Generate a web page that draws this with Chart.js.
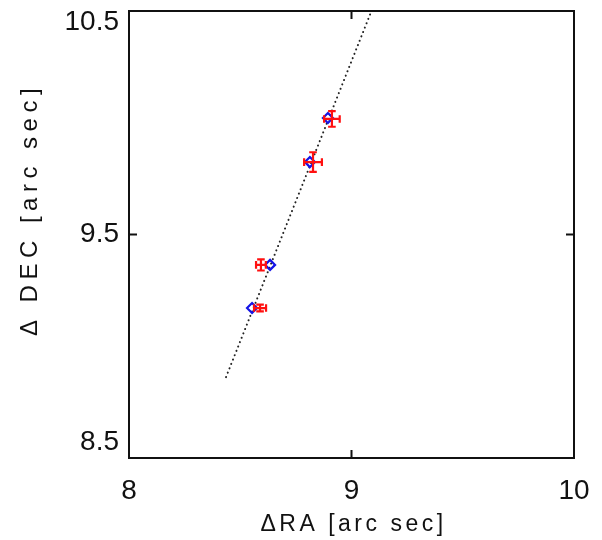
<!DOCTYPE html>
<html><head><meta charset="utf-8">
<script src="https://cdn.jsdelivr.net/npm/chart.js@4/dist/chart.umd.min.js"></script>
<style>html,body{margin:0;padding:0;background:#fff}#wrap{width:602px;height:540px}</style>
</head><body><div id="wrap"><canvas id="c" width="602" height="540"></canvas></div>
<script>
// ---- data ----
const xTicks = [8, 9, 10];
const yTicks = [8.5, 9.5, 10.5];
const xTickLabels = ['8', '9', '10'];
const yTickLabels = ['8.5', '9.5', '10.5'];
const fitLineRA = [8.436, 9.088];
const fitLineDEC = [8.862, 10.496];
const modelRA = [8.894, 8.813, 8.634, 8.553];
const modelDEC = [10.021, 9.824, 9.364, 9.171];
const obsRA = [8.912, 8.827, 8.593, 8.589];
const obsDEC = [10.017, 9.824, 9.364, 9.171];
const obsRAErr = [0.035, 0.040, 0.022, 0.027];
const obsDECErr = [0.035, 0.044, 0.025, 0.015];
const xTitle = 'ΔRA [arc sec]';
const yTitle = 'Δ DEC [arc sec]';

const FONT = '"Liberation Sans", Arial, sans-serif';

const toXY = (xs, ys) => xs.map((x, i) => ({x: x, y: ys[i]}));

const decorPlugin = {
  id: 'decor',
  beforeDatasetsDraw(chart) {
    const ctx = chart.ctx, a = chart.chartArea;
    const xs = chart.scales.x, ys = chart.scales.y;
    ctx.save();
    ctx.strokeStyle = '#111';
    ctx.lineWidth = 2;
    ctx.strokeRect(a.left, a.top, a.right - a.left, a.bottom - a.top);
    // inner tick marks
    const tl = 8;
    xTicks.forEach(v => {
      const px = xs.getPixelForValue(v);
      ctx.beginPath();
      ctx.moveTo(px, a.bottom); ctx.lineTo(px, a.bottom - tl);
      ctx.moveTo(px, a.top); ctx.lineTo(px, a.top + tl);
      ctx.stroke();
    });
    yTicks.forEach(v => {
      const py = ys.getPixelForValue(v);
      ctx.beginPath();
      ctx.moveTo(a.left, py); ctx.lineTo(a.left + tl, py);
      ctx.moveTo(a.right, py); ctx.lineTo(a.right - tl, py);
      ctx.stroke();
    });
    ctx.restore();
  },
  afterDatasetsDraw(chart) {
    const ctx = chart.ctx;
    const xs = chart.scales.x, ys = chart.scales.y;
    ctx.save();
    ctx.strokeStyle = '#ff1010';
    ctx.lineWidth = 2.2;
    const cap = 3.8;
    obsRA.forEach((rx, i) => {
      const px = xs.getPixelForValue(rx), py = ys.getPixelForValue(obsDEC[i]);
      const x0 = xs.getPixelForValue(rx - obsRAErr[i]), x1 = xs.getPixelForValue(rx + obsRAErr[i]);
      const y0 = ys.getPixelForValue(obsDEC[i] - obsDECErr[i]), y1 = ys.getPixelForValue(obsDEC[i] + obsDECErr[i]);
      ctx.beginPath();
      ctx.moveTo(x0, py); ctx.lineTo(x1, py);
      ctx.moveTo(x0, py - cap); ctx.lineTo(x0, py + cap);
      ctx.moveTo(x1, py - cap); ctx.lineTo(x1, py + cap);
      ctx.moveTo(px, y0); ctx.lineTo(px, y1);
      ctx.moveTo(px - cap, y0); ctx.lineTo(px + cap, y0);
      ctx.moveTo(px - cap, y1); ctx.lineTo(px + cap, y1);
      ctx.stroke();
    });
    ctx.restore();
  },
  afterDraw(chart) {
    const ctx = chart.ctx, a = chart.chartArea;
    const ys = chart.scales.y;
    ctx.save();
    ctx.fillStyle = '#111';
    // y tick labels (end labels kept inside the frame, as in the reference)
    ctx.font = '28px ' + FONT;
    ctx.textAlign = 'right';
    ctx.textBaseline = 'middle';
    yTicks.forEach((v, i) => {
      let py = ys.getPixelForValue(v);
      py = Math.min(Math.max(py, a.top + 11), a.bottom - 16);
      ctx.fillText(yTickLabels[i], a.left - 10, py);
    });
    // axis titles
    ctx.font = '23px ' + FONT;
    ctx.letterSpacing = '3.5px';
    ctx.textAlign = 'center';
    ctx.textBaseline = 'middle';
    ctx.fillText(xTitle, (a.left + a.right) / 2 + 2, 525);
    ctx.font = '24px ' + FONT;
    ctx.letterSpacing = '5.5px';
    ctx.translate(30, (a.top + a.bottom) / 2 - 22);
    ctx.rotate(-Math.PI / 2);
    ctx.fillText(yTitle, 3, 0);
    ctx.restore();
  }
};

new Chart(document.getElementById('c'), {
  type: 'scatter',
  data: {
    datasets: [
      {
        label: 'obs',
        data: toXY(obsRA, obsDEC),
        pointRadius: 0,
        borderColor: '#ff1010',
        backgroundColor: '#ff1010'
      },
      {
        label: 'model',
        data: toXY(modelRA, modelDEC),
        pointStyle: 'rectRot',
        pointRadius: 5,
        borderWidth: 2.2,
        borderColor: '#1414e6',
        backgroundColor: 'rgba(255,255,255,0)'
      },
      {
        label: 'fit',
        data: toXY(fitLineRA, fitLineDEC),
        showLine: true,
        pointRadius: 0,
        borderColor: '#222',
        borderWidth: 2,
        borderDash: [0.1, 4.6],
        borderCapStyle: 'round'
      }
    ]
  },
  options: {
    responsive: false,
    animation: false,
    devicePixelRatio: 1,
    layout: {padding: {top: 11, right: 28, left: 0, bottom: 0}},
    plugins: {legend: {display: false}, tooltip: {enabled: false}},
    scales: {
      x: {
        type: 'linear', position: 'bottom', min: 8, max: 10,
        afterBuildTicks: s => { s.ticks = xTicks.map(v => ({value: v})); },
        afterFit: s => { s.height = 82; s.paddingLeft = 0; s.paddingRight = 0; },
        grid: {display: false, drawTicks: false},
        border: {display: false},
        ticks: {
          padding: 16, color: '#111', maxRotation: 0, autoSkip: false,
          font: {family: FONT, size: 28},
          callback: (v, i) => xTickLabels[i]
        }
      },
      y: {
        type: 'linear', position: 'left', min: 8.5, max: 10.5,
        afterBuildTicks: s => { s.ticks = yTicks.map(v => ({value: v})); },
        afterFit: s => { s.width = 129; s.paddingTop = 0; s.paddingBottom = 0; },
        grid: {display: false, drawTicks: false},
        border: {display: false},
        ticks: {display: false}
      }
    }
  },
  plugins: [decorPlugin]
});
</script>
</body></html>
